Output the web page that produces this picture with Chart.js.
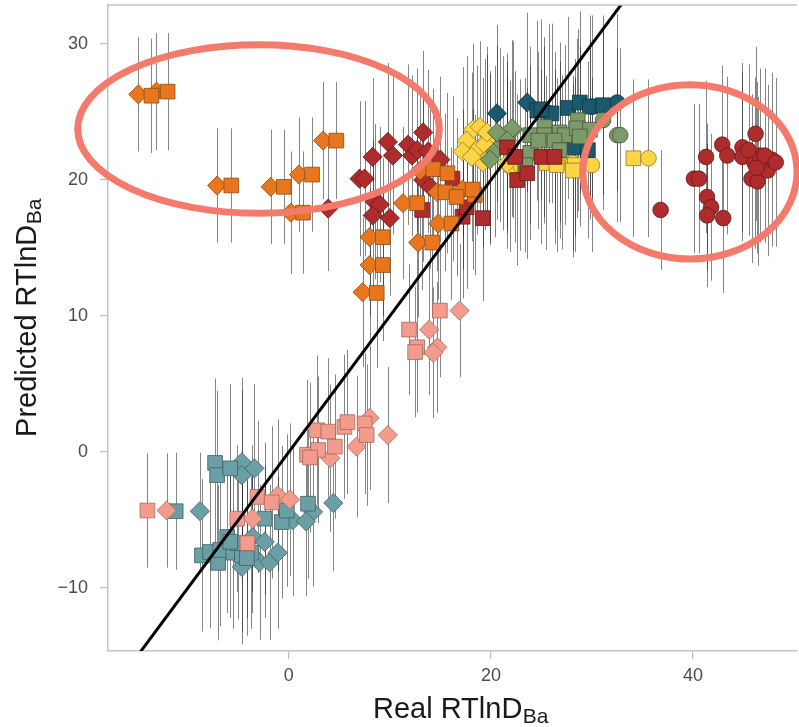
<!DOCTYPE html>
<html>
<head>
<meta charset="utf-8">
<script src="https://cdn.jsdelivr.net/npm/chart.js@4.4.1/dist/chart.umd.min.js"></script>
<style>
  html, body { margin: 0; padding: 0; background: #ffffff; }
  #wrap { width: 799px; height: 727px; }
</style>
</head>
<body>
<div id="wrap"><canvas id="c" width="799" height="727"></canvas></div>
<script>
// Each point: [real RTlnD_Ba, predicted RTlnD_Ba, half-width of the prediction interval]
const orangeDiamonds = [
  [-14.9, 26.3, 4.2], [-13.1, 26.5, 4.3], [-7.1, 19.6, 4.2], [-1.8, 19.5, 4.2],
  [1.0, 20.4, 4.2], [3.4, 22.9, 4.3], [0.2, 17.6, 4.5], [8.0, 15.8, 5.8],
  [8.0, 13.75, 5.6], [7.3, 11.75, 5.5], [11.3, 18.3, 5.6], [12.8, 15.4, 5.5],
  [14.8, 16.8, 5.6], [13.0, 20.7, 5.8], [14.7, 19.1, 5.8], [17.2, 19.3, 5.9]
];
const orangeSquares = [
  [-13.6, 26.2, 4.2], [-12.0, 26.5, 4.3], [-5.7, 19.6, 4.2], [-0.5, 19.5, 4.2],
  [2.3, 20.4, 4.2], [4.7, 22.9, 4.3], [1.4, 17.6, 4.5], [9.3, 15.8, 5.8],
  [9.3, 13.75, 5.6], [8.7, 11.7, 5.5], [12.7, 18.3, 5.6], [14.2, 15.4, 5.5],
  [16.1, 16.8, 5.6], [14.3, 20.8, 5.9], [15.7, 20.5, 5.9], [15.5, 19.1, 5.8],
  [16.6, 18.75, 5.8], [18.4, 18.9, 5.9], [18.2, 19.3, 5.9]
];
const redDiamonds = [
  [13.3, 23.5, 6.0], [9.8, 22.8, 5.8], [10.3, 21.8, 5.8], [8.3, 21.7, 5.8],
  [11.8, 22.6, 5.9], [12.2, 21.8, 5.9], [12.7, 22.2, 6.0], [13.8, 22.1, 6.0],
  [15.0, 21.5, 6.1], [7.0, 20.1, 5.7], [7.5, 20.1, 5.7], [8.5, 18.4, 5.7],
  [9.0, 18.2, 5.7], [8.3, 17.4, 5.6], [10.0, 17.2, 5.7], [13.3, 20.0, 6.0],
  [14.0, 19.5, 6.0], [3.9, 17.9, 4.6]
];
const redSquares = [
  [13.2, 17.8, 5.9], [17.2, 17.3, 6.0], [19.2, 17.2, 6.1], [16.2, 20.1, 6.1],
  [17.6, 18.0, 6.0], [21.6, 22.4, 6.3], [22.4, 21.7, 6.3], [22.6, 20.0, 6.3],
  [23.6, 20.5, 6.3], [25.0, 21.7, 6.4], [26.3, 21.7, 6.4]
];
const redCircles = [
  [36.8, 17.8, 4.4], [41.3, 21.7, 5.6], [42.9, 22.6, 5.8], [43.4, 21.8, 5.8],
  [40.1, 20.1, 5.5], [40.6, 20.1, 5.5], [41.4, 18.75, 5.4], [41.8, 18.0, 5.4],
  [41.4, 17.4, 5.3], [43.0, 17.2, 5.5], [44.9, 22.4, 6.2], [44.9, 21.7, 6.2],
  [46.2, 23.4, 6.4], [46.1, 21.25, 6.3], [46.6, 21.8, 6.4], [45.8, 20.1, 6.2],
  [46.4, 19.9, 6.2], [47.4, 20.7, 6.3], [47.8, 21.5, 6.4], [47.1, 21.8, 6.4],
  [46.3, 20.9, 6.3], [45.5, 22.2, 6.3], [48.2, 21.3, 6.2]
];
const yellowDiamonds = [
  [18.2, 23.7, 6.3], [18.9, 23.9, 6.3], [19.6, 22.9, 6.3], [17.6, 22.9, 6.2],
  [18.6, 22.2, 6.2], [17.2, 22.1, 6.2], [19.4, 22.6, 6.3], [19.2, 21.3, 6.2],
  [19.9, 21.7, 6.3], [21.6, 21.25, 6.3], [19.6, 23.5, 6.3], [18.1, 21.7, 6.2]
];
const yellowSquares = [
  [34.1, 21.6, 5.8], [25.5, 21.25, 6.4], [26.5, 21.1, 6.4], [28.3, 21.1, 6.4],
  [28.1, 20.7, 6.4]
];
const yellowCircles = [
  [35.6, 21.6, 5.8], [21.9, 21.0, 6.3], [27.0, 21.3, 6.4], [28.1, 21.25, 6.4],
  [30.0, 21.1, 6.4], [22.9, 21.1, 6.3]
];
const greenDiamonds = [
  [20.9, 23.3, 6.4], [20.4, 22.1, 6.3], [21.2, 22.7, 6.4], [22.2, 23.7, 6.5],
  [19.9, 21.5, 6.3], [20.6, 23.5, 6.4], [22.1, 23.8, 6.5], [21.6, 22.9, 6.4]
];
const greenSquares = [
  [23.9, 23.3, 6.5], [25.3, 23.9, 6.6], [26.8, 23.5, 6.6], [27.3, 23.3, 6.6],
  [28.6, 24.4, 6.7], [28.5, 23.8, 6.6], [29.8, 23.7, 6.6], [25.3, 23.3, 6.5],
  [23.9, 22.0, 6.4], [23.4, 21.1, 6.4], [28.8, 23.2, 6.6], [26.3, 22.9, 6.5],
  [24.7, 22.9, 6.5], [26.8, 22.2, 6.5]
];
const greenCircles = [
  [31.1, 24.4, 6.6], [32.5, 23.3, 6.4], [32.8, 23.3, 6.4]
];
const navyDiamonds = [
  [20.6, 24.9, 6.5], [23.6, 25.7, 6.6]
];
const navySquares = [
  [24.6, 25.1, 6.6], [26.0, 24.9, 6.6], [27.6, 25.3, 6.7], [28.8, 25.7, 6.7],
  [29.8, 25.4, 6.7], [31.1, 25.5, 6.6], [28.3, 22.4, 6.5], [29.6, 22.2, 6.5],
  [25.0, 25.2, 6.6]
];
const navyCircles = [
  [25.8, 24.9, 6.6], [30.0, 25.4, 6.7], [32.5, 25.7, 6.5]
];
const salmonDiamonds = [
  [-12.1, -4.3, 4.2], [-3.6, -4.9, 5.4], [-1.1, -3.2, 5.6], [0.1, -3.5, 5.6],
  [4.1, -0.45, 5.4], [6.7, 0.4, 5.2], [8.0, 2.5, 5.3], [9.8, 1.25, 5.0],
  [16.9, 10.4, 4.9], [13.9, 9.0, 4.8], [14.7, 7.7, 4.8], [14.3, 7.3, 4.8]
];
const salmonSquares = [
  [-14.0, -4.3, 4.2], [-5.1, -4.9, 5.4], [-3.1, -3.3, 5.6], [-1.7, -3.7, 5.6],
  [-4.1, -6.7, 5.5], [2.8, 1.6, 5.5], [3.9, 1.5, 5.4], [1.8, -0.2, 5.5],
  [2.9, 0.15, 5.4], [4.55, 0.4, 5.3], [5.5, 1.85, 5.3], [5.8, 2.2, 5.3],
  [7.5, 2.1, 5.2], [7.7, 1.25, 5.2], [2.1, -0.4, 5.5], [14.95, 10.4, 4.9],
  [11.9, 9.0, 4.8], [12.7, 7.7, 4.8], [12.5, 7.35, 4.8]
];
const tealDiamonds = [
  [-8.8, -4.35, 4.3], [-4.65, -0.75, 6.2], [-4.65, -1.7, 6.2], [-3.4, -1.2, 6.2],
  [0.4, -5.0, 5.6], [2.4, -4.4, 5.5], [1.7, -5.1, 5.5], [4.4, -3.75, 5.0],
  [-3.6, -6.25, 5.6], [-2.4, -6.6, 5.6], [-2.9, -8.1, 5.7], [-1.9, -8.1, 5.7],
  [-1.1, -7.4, 5.6], [-4.65, -8.45, 5.7]
];
const tealSquares = [
  [-11.2, -4.35, 4.3], [-7.3, -0.8, 6.2], [-7.1, -1.7, 6.2], [-5.8, -1.2, 6.2],
  [-2.4, -4.9, 5.6], [-0.7, -5.15, 5.6], [-0.2, -4.3, 5.6], [1.9, -3.8, 5.5],
  [-8.6, -7.6, 5.6], [-7.8, -7.35, 5.6], [-7.0, -8.15, 5.7], [-6.1, -6.25, 5.6],
  [-6.8, -7.2, 5.6], [-5.5, -7.4, 5.6], [-4.65, -7.6, 5.6], [-3.7, -7.4, 5.6],
  [-5.05, -6.7, 5.6], [-4.15, -7.8, 5.7], [-5.8, -6.6, 5.6]
];

// Axis ticks and the identity reference line
const xTicks = [0, 20, 40];
const yTicks = [-10, 0, 10, 20, 30];
const identityLine = [-20, 60];

// Highlighted groups, given as centre and radii in axis units
const highlightEllipses = [
  { cx: -3.0, cy: 23.75, rx: 17.9, ry: 6.2 },
  { cx: 39.7, cy: 20.6, rx: 10.6, ry: 6.4 }
];

const FONT = "'Liberation Sans', Arial, Helvetica, sans-serif";

const COLORS = {
  orange: '#E8761C',
  red:    '#B02B2B',
  yellow: '#FDD544',
  green:  '#7D9A69',
  navy:   '#1B5A6E',
  salmon: '#F39B8C',
  teal:   '#6A9FA6'
};
const EDGES = {
  orange: '#8a4a16',
  red:    '#5e1a1a',
  yellow: '#8f7a2a',
  green:  '#45573b',
  navy:   '#0f3340',
  salmon: '#a56a60',
  teal:   '#3f6064'
};

const SHAPES = {
  diamond: { style: 'rectRot', radius: 9.6 },
  square:  { style: 'rect',    radius: 10.4 },
  circle:  { style: 'circle',  radius: 7.8 }
};

function series(points, colorKey, shapeKey, order) {
  const shape = SHAPES[shapeKey];
  return {
    data: points.map(p => ({ x: p[0], y: p[1], e: p[2] })),
    pointStyle: shape.style,
    pointRadius: shape.radius,
    pointHoverRadius: shape.radius,
    backgroundColor: COLORS[colorKey],
    borderColor: EDGES[colorKey],
    borderWidth: 0.8,
    showLine: false,
    order: order
  };
}

const datasets = [
  {
    data: identityLine.map(v => ({ x: v, y: v })),
    showLine: true,
    borderColor: '#000000',
    borderWidth: 3,
    pointRadius: 0,
    pointHoverRadius: 0,
    order: 0,
    noErrors: true
  },
  series(orangeSquares, 'orange', 'square', 1),
  series(orangeDiamonds, 'orange', 'diamond', 2),
  series(redSquares, 'red', 'square', 3),
  series(redDiamonds, 'red', 'diamond', 4),
  series(redCircles, 'red', 'circle', 5),
  series(greenSquares, 'green', 'square', 6),
  series(greenDiamonds, 'green', 'diamond', 7),
  series(greenCircles, 'green', 'circle', 8),
  series(navySquares, 'navy', 'square', 9),
  series(navyDiamonds, 'navy', 'diamond', 10),
  series(navyCircles, 'navy', 'circle', 11),
  series(yellowSquares, 'yellow', 'square', 12),
  series(yellowDiamonds, 'yellow', 'diamond', 13),
  series(yellowCircles, 'yellow', 'circle', 14),
  series(salmonSquares, 'salmon', 'square', 15),
  series(salmonDiamonds, 'salmon', 'diamond', 16),
  series(tealSquares, 'teal', 'square', 17),
  series(tealDiamonds, 'teal', 'diamond', 18)
];

// Vertical prediction-interval bars, drawn underneath all markers
const errorBars = {
  id: 'errorBars',
  beforeDatasetsDraw(chart) {
    const { ctx, chartArea, scales } = chart;
    ctx.save();
    ctx.beginPath();
    ctx.rect(chartArea.left, chartArea.top, chartArea.right - chartArea.left, chartArea.bottom - chartArea.top);
    ctx.clip();
    ctx.strokeStyle = 'rgba(35,35,35,0.55)';
    ctx.lineWidth = 1;
    chart.data.datasets.forEach(ds => {
      if (ds.noErrors) return;
      ds.data.forEach(p => {
        const px = Math.round(scales.x.getPixelForValue(p.x)) + 0.5;
        const y1 = scales.y.getPixelForValue(p.y + p.e);
        const y2 = scales.y.getPixelForValue(p.y - p.e);
        ctx.beginPath();
        ctx.moveTo(px, y1);
        ctx.lineTo(px, y2);
        ctx.stroke();
      });
    });
    ctx.restore();
  }
};

// Panel top edge, highlight ellipses and axis titles with subscripts
const decorations = {
  id: 'decorations',
  afterDraw(chart) {
    const { ctx, chartArea, scales } = chart;
    ctx.save();
    ctx.strokeStyle = '#C4C4C4';
    ctx.lineWidth = 1.5;
    ctx.beginPath();
    ctx.moveTo(chartArea.left, chartArea.top);
    ctx.lineTo(chartArea.right, chartArea.top);
    ctx.stroke();

    ctx.strokeStyle = '#F47B6C';
    ctx.lineWidth = 7;
    highlightEllipses.forEach(el => {
      const cx = scales.x.getPixelForValue(el.cx);
      const cy = scales.y.getPixelForValue(el.cy);
      const rx = Math.abs(scales.x.getPixelForValue(el.cx + el.rx) - cx);
      const ry = Math.abs(scales.y.getPixelForValue(el.cy + el.ry) - cy);
      ctx.beginPath();
      ctx.ellipse(cx, cy, rx, ry, 0, 0, Math.PI * 2);
      ctx.stroke();
    });

    const mainSize = 29, subSize = 21, subDrop = 5;
    function measure(main, sub) {
      ctx.font = mainSize + 'px ' + FONT;
      const w1 = ctx.measureText(main).width;
      ctx.font = subSize + 'px ' + FONT;
      const w2 = ctx.measureText(sub).width;
      return { w1, w2, total: w1 + w2 };
    }
    function drawTitle(main, sub, startX, baseY) {
      const m = measure(main, sub);
      ctx.fillStyle = '#1a1a1a';
      ctx.textBaseline = 'alphabetic';
      ctx.textAlign = 'left';
      ctx.font = mainSize + 'px ' + FONT;
      ctx.fillText(main, startX, baseY);
      ctx.font = subSize + 'px ' + FONT;
      ctx.fillText(sub, startX + m.w1 + 0.5, baseY + subDrop);
    }

    // x-axis title
    const xm = measure('Real RTlnD', 'Ba');
    const xCenter = (chartArea.left + chartArea.right) / 2 + 8;
    drawTitle('Real RTlnD', 'Ba', xCenter - xm.total / 2, 718);

    // y-axis title, rotated
    const ym = measure('Predicted RTlnD', 'Ba');
    const yCenter = (chartArea.top + chartArea.bottom) / 2 - 10;
    ctx.save();
    ctx.translate(36, yCenter);
    ctx.rotate(-Math.PI / 2);
    drawTitle('Predicted RTlnD', 'Ba', -ym.total / 2, 0);
    ctx.restore();

    ctx.restore();
  }
};

const tickFont = { family: FONT, size: 18 };
const minus = v => (v < 0 ? '\u2212' + Math.abs(v) : String(v));
const noPad = s => { s.paddingTop = 0; s.paddingBottom = 0; s.paddingLeft = 0; s.paddingRight = 0; };

new Chart(document.getElementById('c'), {
  type: 'scatter',
  data: { datasets },
  options: {
    responsive: false,
    animation: false,
    devicePixelRatio: 1,
    layout: { autoPadding: false, padding: { top: 5, right: 2, left: 0, bottom: 0 } },
    plugins: {
      legend: { display: false },
      tooltip: { enabled: false }
    },
    scales: {
      x: {
        type: 'linear',
        min: -17.9,
        max: 50.3,
        afterBuildTicks: s => { s.ticks = xTicks.map(v => ({ value: v })); },
        afterFit: s => { s.height = 76; noPad(s); },
        grid: { drawOnChartArea: false, drawTicks: true, tickLength: 8, color: '#BDBDBD', lineWidth: 1.2 },
        border: { display: true, color: '#C4C4C4', width: 1.5 },
        ticks: { font: tickFont, color: '#4D4D4D', padding: 6, maxRotation: 0, callback: minus }
      },
      y: {
        type: 'linear',
        min: -14.63,
        max: 32.87,
        afterBuildTicks: s => { s.ticks = yTicks.map(v => ({ value: v })); },
        afterFit: s => { s.width = 108; noPad(s); },
        grid: { drawOnChartArea: false, drawTicks: true, tickLength: 8, color: '#BDBDBD', lineWidth: 1.2 },
        border: { display: true, color: '#C4C4C4', width: 1.5 },
        ticks: { font: tickFont, color: '#4D4D4D', padding: 12, callback: minus }
      }
    }
  },
  plugins: [errorBars, decorations]
});
</script>
</body>
</html>
